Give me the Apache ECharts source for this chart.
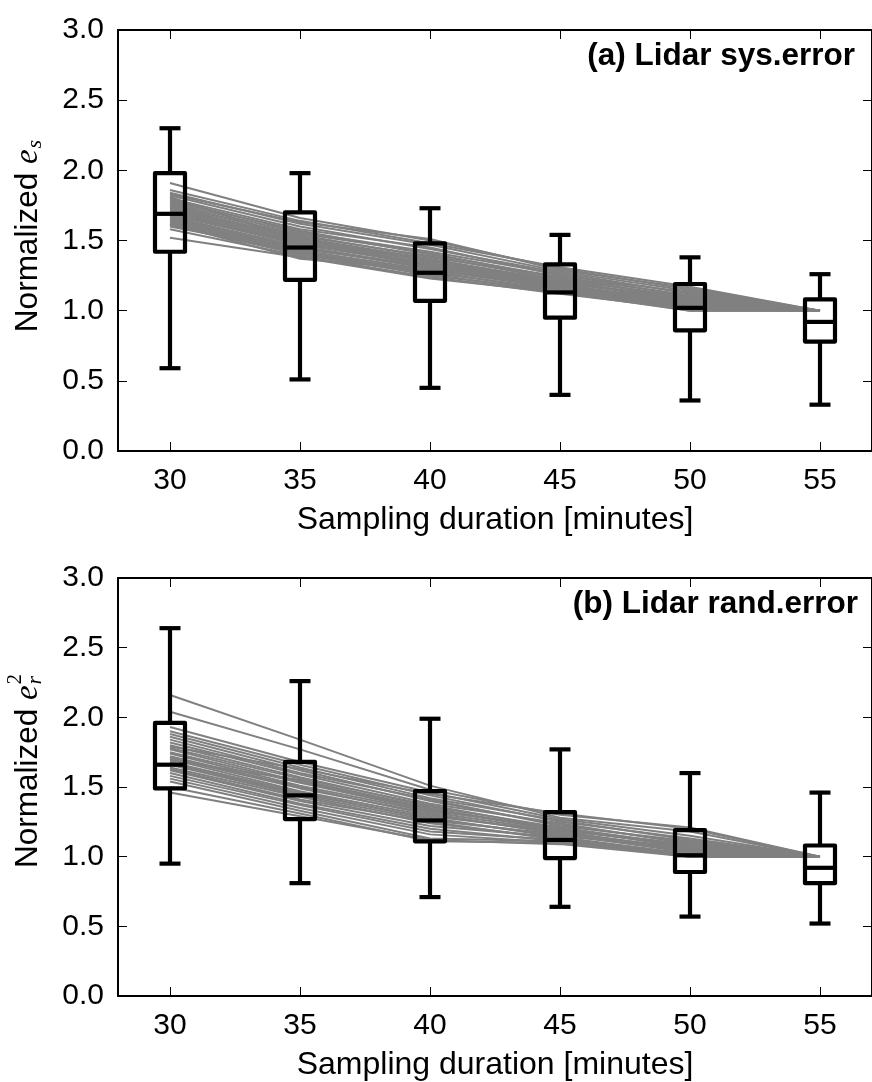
<!DOCTYPE html>
<html>
<head>
<meta charset="utf-8">
<script src="https://cdn.jsdelivr.net/npm/echarts@6/dist/echarts.min.js"></script>
<style>
html,body{margin:0;padding:0;background:#fff;}
#chart{width:872px;height:1082px;}
</style>
</head>
<body>
<div id="chart"></div>
<script>
// ---------------- DATA ----------------
const durations = [30, 35, 40, 45, 50, 55];
const xTickLabels = ['30', '35', '40', '45', '50', '55'];
const yTickValues = [0, 0.5, 1, 1.5, 2, 2.5, 3];

// (a) Lidar sys.error : box statistics
const sysLow  = [0.59, 0.51, 0.45, 0.40, 0.36, 0.33];
const sysQ1   = [1.42, 1.22, 1.07, 0.95, 0.86, 0.78];
const sysMed  = [1.69, 1.45, 1.27, 1.13, 1.02, 0.92];
const sysQ3   = [1.98, 1.70, 1.48, 1.33, 1.19, 1.08];
const sysHigh = [2.30, 1.98, 1.73, 1.54, 1.38, 1.26];

// (b) Lidar rand.error : box statistics
const randLow  = [0.95, 0.81, 0.71, 0.64, 0.57, 0.52];
const randQ1   = [1.49, 1.27, 1.11, 0.99, 0.89, 0.81];
const randMed  = [1.66, 1.44, 1.26, 1.12, 1.01, 0.92];
const randQ3   = [1.96, 1.68, 1.47, 1.32, 1.19, 1.08];
const randHigh = [2.64, 2.26, 1.99, 1.77, 1.60, 1.46];

// individual grey curves (values at 30,35,40,45,50,55 minutes)
const sysLines = [
  [1.91, 1.66, 1.50, 1.30, 1.15, 1.0],
  [1.84, 1.62, 1.47, 1.28, 1.14, 1.0],
  [1.82, 1.60, 1.44, 1.27, 1.12, 1.0],
  [1.80, 1.58, 1.45, 1.25, 1.13, 1.0],
  [1.79, 1.56, 1.42, 1.26, 1.10, 1.0],
  [1.78, 1.57, 1.40, 1.24, 1.11, 1.0],
  [1.77, 1.55, 1.41, 1.23, 1.09, 1.0],
  [1.76, 1.53, 1.39, 1.22, 1.10, 1.0],
  [1.75, 1.54, 1.38, 1.24, 1.08, 1.0],
  [1.74, 1.52, 1.37, 1.21, 1.07, 1.0],
  [1.73, 1.51, 1.36, 1.20, 1.09, 1.0],
  [1.72, 1.50, 1.35, 1.22, 1.06, 1.0],
  [1.71, 1.49, 1.36, 1.19, 1.05, 1.0],
  [1.70, 1.48, 1.34, 1.20, 1.07, 1.0],
  [1.69, 1.47, 1.33, 1.18, 1.04, 1.0],
  [1.68, 1.48, 1.32, 1.17, 1.06, 1.0],
  [1.67, 1.46, 1.31, 1.18, 1.03, 1.0],
  [1.66, 1.45, 1.30, 1.16, 1.05, 1.0],
  [1.65, 1.44, 1.32, 1.15, 1.02, 1.0],
  [1.64, 1.43, 1.29, 1.16, 1.04, 1.0],
  [1.63, 1.42, 1.28, 1.14, 1.01, 1.0],
  [1.62, 1.41, 1.27, 1.15, 1.03, 1.0],
  [1.61, 1.40, 1.26, 1.13, 1.02, 1.0],
  [1.60, 1.42, 1.25, 1.14, 1.00, 1.0],
  [1.81, 1.50, 1.33, 1.19, 1.05, 1.0],
  [1.58, 1.39, 1.24, 1.12, 1.01, 1.0],
  [1.52, 1.38, 1.23, 1.13, 1.00, 1.0],
  [1.86, 1.64, 1.48, 1.31, 1.17, 1.0],
  [1.83, 1.63, 1.51, 1.29, 1.16, 1.0],
  [1.62, 1.37, 1.29, 1.17, 1.08, 1.0]
];
const randLines = [
  [2.16, 1.84, 1.51, 1.28, 1.18, 1.0],
  [2.04, 1.77, 1.48, 1.30, 1.21, 1.0],
  [1.93, 1.68, 1.46, 1.27, 1.15, 1.0],
  [1.90, 1.66, 1.44, 1.25, 1.13, 1.0],
  [1.88, 1.64, 1.42, 1.26, 1.12, 1.0],
  [1.86, 1.62, 1.40, 1.23, 1.10, 1.0],
  [1.84, 1.60, 1.41, 1.22, 1.11, 1.0],
  [1.82, 1.59, 1.38, 1.24, 1.09, 1.0],
  [1.80, 1.57, 1.36, 1.21, 1.08, 1.0],
  [1.78, 1.56, 1.37, 1.20, 1.07, 1.0],
  [1.77, 1.54, 1.34, 1.19, 1.08, 1.0],
  [1.75, 1.53, 1.33, 1.21, 1.06, 1.0],
  [1.74, 1.51, 1.32, 1.18, 1.05, 1.0],
  [1.72, 1.50, 1.30, 1.17, 1.06, 1.0],
  [1.71, 1.49, 1.31, 1.16, 1.04, 1.0],
  [1.70, 1.47, 1.29, 1.18, 1.03, 1.0],
  [1.68, 1.46, 1.27, 1.15, 1.05, 1.0],
  [1.67, 1.45, 1.28, 1.14, 1.02, 1.0],
  [1.66, 1.44, 1.26, 1.16, 1.03, 1.0],
  [1.64, 1.43, 1.24, 1.13, 1.01, 1.0],
  [1.63, 1.41, 1.25, 1.12, 1.02, 1.0],
  [1.62, 1.40, 1.22, 1.14, 1.00, 1.0],
  [1.60, 1.38, 1.20, 1.11, 1.01, 1.0],
  [1.58, 1.37, 1.18, 1.12, 1.00, 1.0],
  [1.56, 1.35, 1.16, 1.10, 1.02, 1.0],
  [1.54, 1.33, 1.13, 1.11, 1.00, 1.0],
  [1.50, 1.31, 1.11, 1.10, 1.01, 1.0],
  [1.46, 1.29, 1.12, 1.09, 1.00, 1.0],
  [1.79, 1.63, 1.45, 1.31, 1.20, 1.0],
  [1.69, 1.55, 1.35, 1.19, 1.09, 1.0]
];

const titleA = '(a) Lidar sys.error';
const titleB = '(b) Lidar rand.error';
const xName = 'Sampling duration [minutes]';

// ---------------- CHART ----------------
const SANS = '"Liberation Sans", Arial, Helvetica, sans-serif';
const chart = echarts.init(document.getElementById('chart'), null, {renderer: 'canvas'});

function boxRows(low, q1, med, q3, high) {
  return durations.map((d, i) => [d, low[i], q1[i], med[i], q3[i], high[i]]);
}

function renderBox(params, api) {
  const x = api.value(0);
  const pMin = api.coord([x, api.value(1)]);
  const pQ1 = api.coord([x, api.value(2)]);
  const pMed = api.coord([x, api.value(3)]);
  const pQ3 = api.coord([x, api.value(4)]);
  const pMax = api.coord([x, api.value(5)]);
  const cx = pMin[0];
  const hw = 15, cw = 10.5;
  const st = {stroke: '#000', lineWidth: 4.2, fill: 'none'};
  return {
    type: 'group',
    children: [
      {type: 'line', shape: {x1: cx, y1: pQ1[1], x2: cx, y2: pMin[1]}, style: st},
      {type: 'line', shape: {x1: cx, y1: pQ3[1], x2: cx, y2: pMax[1]}, style: st},
      {type: 'line', shape: {x1: cx - cw, y1: pMin[1], x2: cx + cw, y2: pMin[1]}, style: st},
      {type: 'line', shape: {x1: cx - cw, y1: pMax[1], x2: cx + cw, y2: pMax[1]}, style: st},
      {type: 'rect', shape: {x: cx - hw, y: pQ3[1], width: 2 * hw, height: pQ1[1] - pQ3[1]}, style: Object.assign({}, st, {lineJoin: 'round'})},
      {type: 'line', shape: {x1: cx - hw, y1: pMed[1], x2: cx + hw, y2: pMed[1]}, style: st}
    ]
  };
}

const grids = [
  {left: 118, top: 30, width: 757, height: 421},
  {left: 118, top: 578, width: 757, height: 420}
];

const xAxes = [], yAxes = [], series = [];
const lineSets = [sysLines, randLines];
const boxSets = [boxRows(sysLow, sysQ1, sysMed, sysQ3, sysHigh), boxRows(randLow, randQ1, randMed, randQ3, randHigh)];

for (let g = 0; g < 2; g++) {
  const axisLine = {show: true, onZero: false, lineStyle: {color: '#000', width: 2}};
  const tick = {show: true, inside: true, length: 9, lineStyle: {color: '#000', width: 1}};
  xAxes.push({
    gridIndex: g, type: 'value', min: 28, max: 57, position: 'bottom',
    axisLine: axisLine,
    axisTick: Object.assign({}, tick, {customValues: durations}),
    axisLabel: {customValues: durations, formatter: v => xTickLabels[durations.indexOf(v)],
      fontSize: 30, fontFamily: SANS, color: '#000', margin: 15},
    splitLine: {show: false},
    name: xName, nameLocation: 'middle', nameGap: 53,
    nameTextStyle: {fontSize: 32, fontFamily: SANS, color: '#000'}
  });
  xAxes.push({
    gridIndex: g, type: 'value', min: 28, max: 57, position: 'top',
    axisLine: axisLine,
    axisTick: Object.assign({}, tick, {customValues: durations}),
    axisLabel: {show: false},
    splitLine: {show: false}
  });
  yAxes.push({
    gridIndex: g, type: 'value', min: 0, max: 3, interval: 0.5, position: 'left',
    axisLine: axisLine, axisTick: tick,
    axisLabel: {formatter: v => v.toFixed(1), fontSize: 30, fontFamily: SANS, color: '#000', margin: 14},
    splitLine: {show: false}
  });
  yAxes.push({
    gridIndex: g, type: 'value', min: 0, max: 3, interval: 0.5, position: 'right',
    axisLine: axisLine, axisTick: tick,
    axisLabel: {show: false},
    splitLine: {show: false}
  });

  lineSets[g].forEach(vals => {
    series.push({
      type: 'line', xAxisIndex: g * 2, yAxisIndex: g * 2,
      data: durations.map((d, i) => [d, vals[i]]),
      symbol: 'none', silent: true, animation: false, z: 2,
      lineStyle: {color: '#808080', width: 2}
    });
  });
  series.push({
    type: 'custom', xAxisIndex: g * 2, yAxisIndex: g * 2,
    data: boxSets[g], renderItem: renderBox,
    encode: {x: 0, y: [1, 2, 3, 4, 5]},
    animation: false, silent: true, z: 5, clip: false
  });
}

// y-axis labels with math notation, built as real text pieces
const measureCtx = document.createElement('canvas').getContext('2d');
function textWidth(str, font) { measureCtx.font = font; return measureCtx.measureText(str).width; }

function yLabel(cx, cy, parts) {
  let x = 0;
  const placed = [];
  let lastX = 0;
  parts.forEach(p => {
    const w = textWidth(p.text, p.font);
    const px = p.stack ? lastX : x;
    placed.push({text: p.text, font: p.font, x: px, dy: p.dy || 0});
    if (!p.stack) { lastX = x; x += w + (p.gap || 0); }
    else { x = Math.max(x, px + w); }
  });
  const total = x;
  return {
    type: 'group', x: cx, y: cy, rotation: Math.PI / 2,
    children: placed.map(p => ({
      type: 'text', x: p.x - total / 2, y: p.dy,
      style: {text: p.text, font: p.font, fill: '#000', align: 'left', verticalAlign: 'middle'}
    }))
  };
}

const NAMEFONT = '31.5px ' + SANS;
const MATH = 'italic 33px "Liberation Serif", "DejaVu Serif", serif';
const SUBF = 'italic 22px "Liberation Serif", "DejaVu Serif", serif';
const SUPF = '21px "Liberation Serif", "DejaVu Serif", serif';

const graphics = [
  yLabel(28, 236, [
    {text: 'Normalized ', font: NAMEFONT},
    {text: 'e', font: MATH, gap: 1},
    {text: 's', font: SUBF, dy: 7}
  ]),
  yLabel(28, 771, [
    {text: 'Normalized ', font: NAMEFONT},
    {text: 'e', font: MATH, gap: 1},
    {text: 'r', font: SUBF, dy: 7},
    {text: '2', font: SUPF, dy: -13, stack: true}
  ]),
  {type: 'text', x: 855, y: 56, style: {text: titleA, font: 'bold 31.5px ' + SANS, fill: '#000', align: 'right', verticalAlign: 'middle'}},
  {type: 'text', x: 858, y: 604, style: {text: titleB, font: 'bold 31.5px ' + SANS, fill: '#000', align: 'right', verticalAlign: 'middle'}}
];

chart.setOption({
  animation: false,
  backgroundColor: '#fff',
  grid: grids,
  xAxis: xAxes,
  yAxis: yAxes,
  series: series,
  graphic: graphics
});
</script>
</body>
</html>
